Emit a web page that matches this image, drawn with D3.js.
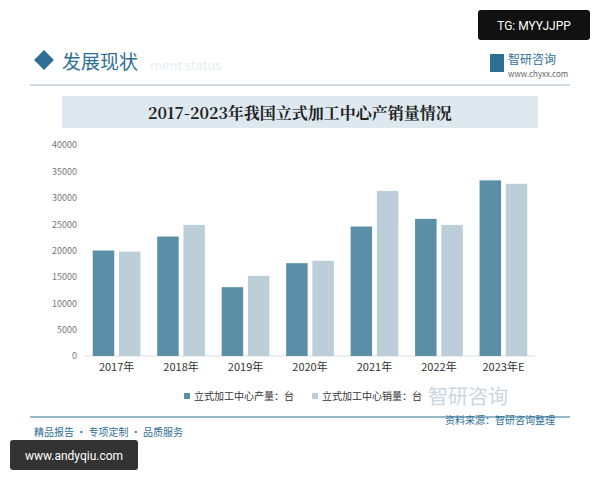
<!DOCTYPE html>
<html><head><meta charset="utf-8">
<script src="https://cdn.jsdelivr.net/npm/d3@7"></script>
<style>body{margin:0;background:#fff;font-family:"Noto Sans CJK SC","Noto Sans",sans-serif}</style>
</head><body><svg id="c"></svg>
<script>
const years = ["2017年","2018年","2019年","2020年","2021年","2022年","2023年E"];
const production = [20000,22650,13050,17600,24550,26000,33300];
const sales = [19800,24850,15200,18050,31300,24850,32650];
const yTicks = [0,5000,10000,15000,20000,25000,30000,35000,40000];
const seriesNames = ["立式加工中心产量：台","立式加工中心销量：台"];
const colors = ["#5b8fa8","#bccfd9"];

const svg = d3.select("#c").attr("width",600).attr("height",480);
const font = '"Noto Sans CJK SC",sans-serif';

// card
svg.append("rect").attr("x",20).attr("y",38).attr("width",560).attr("height",410).attr("fill","#fff");
// header
svg.append("rect").attr("x",37).attr("y",53).attr("width",14).attr("height",14)
  .attr("transform","rotate(45,44,60)").attr("fill","#2e6f96");
svg.append("text").attr("x",62).attr("y",69).attr("font-size",19).attr("fill","#2e6f96")
  .attr("font-family",font).text("发展现状");
svg.append("text").attr("x",150).attr("y",70).attr("font-size",13).attr("fill","#e6eef3")
  .attr("font-family",font).text("ment status");
svg.append("text").attr("x",508).attr("y",64).attr("font-size",12).attr("fill","#2e6f96")
  .attr("font-family",font).text("智研咨询");
svg.append("text").attr("x",508).attr("y",77).attr("font-size",8).attr("fill","#666")
  .attr("font-family",font).text("www.chyxx.com");
svg.append("rect").attr("x",490).attr("y",54).attr("width",14).attr("height",18).attr("fill","#2e6f96");
svg.append("line").attr("x1",30).attr("x2",570).attr("y1",85).attr("y2",85).attr("stroke","#9fb9c9");
// title bar
svg.append("rect").attr("x",62).attr("y",96).attr("width",476).attr("height",32).attr("fill","#dde8ef");
svg.append("text").attr("x",300).attr("y",119).attr("text-anchor","middle").attr("font-size",16)
  .attr("font-weight","bold").attr("fill","#222").attr("font-family","'Noto Serif CJK SC',"+font)
  .text("2017-2023年我国立式加工中心产销量情况");

const m = {l:85,r:535,t:145,b:356};
const x = d3.scaleBand().domain(years).range([m.l,m.r]).paddingInner(0.26).paddingOuter(0.12);
const x1 = d3.scaleBand().domain([0,1]).range([0,x.bandwidth()]).paddingInner(0.18);
const y = d3.scaleLinear().domain([0,40000]).range([m.b,m.t]);

const g = svg.append("g");
g.append("g").attr("transform",`translate(${m.l-4},0)`)
  .call(d3.axisLeft(y).tickValues(yTicks).tickFormat(d3.format("d")).tickSize(0).tickPadding(4))
  .call(a=>a.select(".domain").remove())
  .selectAll("text").attr("font-size",9).attr("fill","#777").attr("font-family",font);
g.append("line").attr("x1",m.l).attr("x2",m.r).attr("y1",m.b).attr("y2",m.b).attr("stroke","#ddd");
g.append("g").attr("transform",`translate(0,${m.b})`)
  .call(d3.axisBottom(x).tickSize(0).tickPadding(7))
  .call(a=>a.select(".domain").remove())
  .selectAll("text").attr("font-size",11).attr("fill","#333").attr("font-family",font);

[production,sales].forEach((vals,s)=>{
  g.selectAll(null).data(vals).enter().append("rect")
    .attr("x",(d,i)=>x(years[i])+x1(s)).attr("width",x1.bandwidth())
    .attr("y",d=>y(d)).attr("height",d=>m.b-y(d)).attr("fill",colors[s]);
});

// legend
seriesNames.forEach((n,i)=>{
  const lx = 184 + i*128;
  svg.append("rect").attr("x",lx).attr("y",393).attr("width",6).attr("height",6).attr("fill",colors[i]);
  svg.append("text").attr("x",lx+10).attr("y",400).attr("font-size",10).attr("fill","#333")
    .attr("font-family",font).text(n);
});

// footer
svg.append("line").attr("x1",30).attr("x2",570).attr("y1",417).attr("y2",417).attr("stroke","#2e6f96");
svg.append("text").attr("x",34).attr("y",436).attr("font-size",10).attr("fill","#2e6f96")
  .attr("font-family",font).text("精品报告 · 专项定制 · 品质服务");
svg.append("text").attr("x",428).attr("y",404).attr("font-size",20).attr("fill","#c8d6e0")
  .attr("font-family",font).text("智研咨询");
svg.append("text").attr("x",445).attr("y",424).attr("font-size",10).attr("fill","#2e6f96")
  .attr("font-family",font).text("资料来源：智研咨询整理");

// overlays
svg.append("rect").attr("x",478).attr("y",10).attr("width",112).attr("height",30).attr("rx",3).attr("fill","#111");
svg.append("text").attr("x",534).attr("y",30).attr("text-anchor","middle").attr("font-size",12)
  .attr("fill","#fff").attr("font-family","Roboto,sans-serif").text("TG: MYYJJPP");
svg.append("rect").attr("x",10).attr("y",440).attr("width",128).attr("height",30).attr("rx",3).attr("fill","#333");
svg.append("text").attr("x",74).attr("y",460).attr("text-anchor","middle").attr("font-size",12)
  .attr("fill","#fff").attr("font-family","Roboto,sans-serif").text("www.andyqiu.com");
</script></body></html>
